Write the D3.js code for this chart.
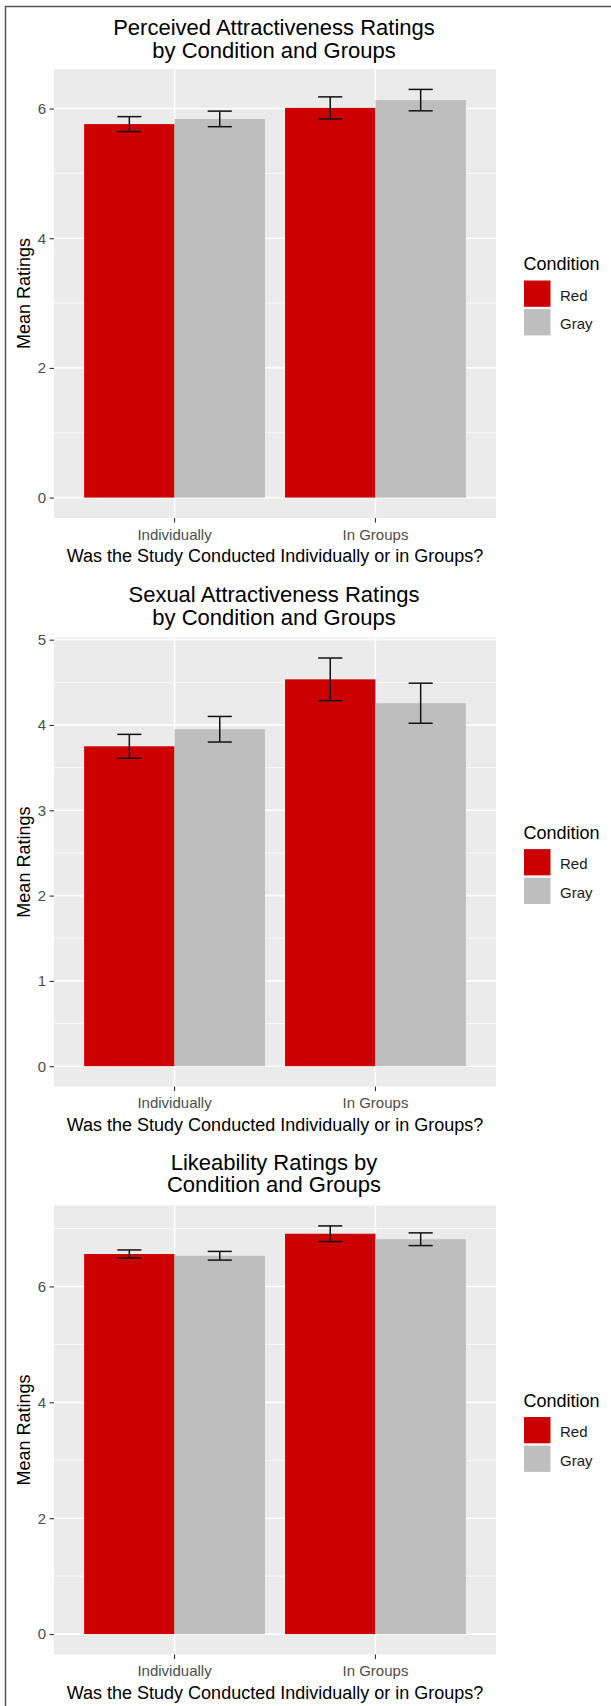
<!DOCTYPE html>
<html>
<head>
<meta charset="utf-8">
<script src="https://cdn.jsdelivr.net/npm/d3@7"></script>
<style>
  body { margin: 0; background: #fff; }
  svg { display: block; font-family: "Liberation Sans", Arial, sans-serif; }
</style>
</head>
<body>
<div class="chart"></div>
<script>
// Data
const groups = ['Individually', 'In Groups'];
const conditions = ['Red', 'Gray'];
const conditionColors = ['#CC0000', '#BEBEBE'];

const perceivedRed = [5.76, 6.01];
const perceivedGray = [5.84, 6.13];
const perceivedRedSE = [0.115, 0.17];
const perceivedGraySE = [0.12, 0.165];

const sexualRed = [3.75, 4.535];
const sexualGray = [3.95, 4.255];
const sexualRedSE = [0.14, 0.25];
const sexualGraySE = [0.15, 0.235];

const likeRed = [6.56, 6.91];
const likeGray = [6.53, 6.815];
const likeRedSE = [0.07, 0.135];
const likeGraySE = [0.075, 0.11];

const titles = [
  ['Perceived Attractiveness Ratings', 'by Condition and Groups'],
  ['Sexual Attractiveness Ratings', 'by Condition and Groups'],
  ['Likeability Ratings by', 'Condition and Groups']
];
const yTicks = [[0, 2, 4, 6], [0, 1, 2, 3, 4, 5], [0, 2, 4, 6]];
const yMinor = [[1, 3, 5], [0.5, 1.5, 2.5, 3.5, 4.5], [1, 3, 5, 7]];

const panels = [
  { means: [perceivedRed, perceivedGray], se: [perceivedRedSE, perceivedGraySE] },
  { means: [sexualRed, sexualGray], se: [sexualRedSE, sexualGraySE] },
  { means: [likeRed, likeGray], se: [likeRedSE, likeGraySE] }
];

// Layout
const W = 611, H = 1706;
const panelLeft = 54, panelRight = 496, panelH = 449;
const panelTops = [69, 637.6, 1205.5];
const titleOffsets = [[-34, -11], [-36, -12.6], [-36, -13.5]];

const svg = d3.select('.chart').append('svg').attr('width', W).attr('height', H);

// outer frame (left and top edges visible)
svg.append('path')
  .attr('d', `M5.5,${H} V6.5 H${W}`)
  .attr('fill', 'none')
  .attr('stroke', '#555')
  .attr('stroke-width', 1.5);

const x = d3.scaleBand().domain(groups).range([panelLeft, panelRight])
  .paddingInner(0.1).paddingOuter(0.15);
const xSub = d3.scaleBand().domain(conditions).range([0, x.bandwidth()]);
const color = d3.scaleOrdinal().domain(conditions).range(conditionColors);

panels.forEach((p, k) => {
  const top = panelTops[k];
  const bottom = top + panelH;
  const rows = [];
  groups.forEach((g, i) => {
    conditions.forEach((c, j) => {
      rows.push({ group: g, cond: c, mean: p.means[j][i], se: p.se[j][i] });
    });
  });
  const maxVal = d3.max(rows, (d) => d.mean + d.se);
  const y = d3.scaleLinear()
    .domain([-0.05 * maxVal, 1.05 * maxVal])
    .range([bottom, top]);

  const g = svg.append('g');

  // panel background
  g.append('rect')
    .attr('x', panelLeft).attr('y', top)
    .attr('width', panelRight - panelLeft).attr('height', panelH)
    .attr('fill', '#EBEBEB');

  // minor grid
  g.selectAll('.minor').data(yMinor[k].filter((v) => v <= y.domain()[1])).enter()
    .append('line')
    .attr('x1', panelLeft).attr('x2', panelRight)
    .attr('y1', (d) => y(d)).attr('y2', (d) => y(d))
    .attr('stroke', '#fff').attr('stroke-width', 0.8);

  // major grid
  g.selectAll('.major').data(yTicks[k]).enter()
    .append('line')
    .attr('x1', panelLeft).attr('x2', panelRight)
    .attr('y1', (d) => y(d)).attr('y2', (d) => y(d))
    .attr('stroke', '#fff').attr('stroke-width', 1.6);

  g.selectAll('.vgrid').data(groups).enter()
    .append('line')
    .attr('x1', (d) => x(d) + x.bandwidth() / 2)
    .attr('x2', (d) => x(d) + x.bandwidth() / 2)
    .attr('y1', top).attr('y2', bottom)
    .attr('stroke', '#fff').attr('stroke-width', 1.6);

  // bars
  g.selectAll('.bar').data(rows).enter()
    .append('rect')
    .attr('x', (d) => x(d.group) + xSub(d.cond))
    .attr('y', (d) => y(d.mean))
    .attr('width', xSub.bandwidth())
    .attr('height', (d) => y(0) - y(d.mean))
    .attr('fill', (d) => color(d.cond));

  // error bars
  const cap = x.step() * 0.06;
  const eb = g.selectAll('.eb').data(rows).enter().append('g')
    .attr('transform', (d) => `translate(${x(d.group) + xSub(d.cond) + xSub.bandwidth() / 2},0)`);
  eb.append('line')
    .attr('y1', (d) => y(d.mean - d.se)).attr('y2', (d) => y(d.mean + d.se))
    .attr('stroke', '#111').attr('stroke-width', 1.5);
  eb.append('line')
    .attr('x1', -cap).attr('x2', cap)
    .attr('y1', (d) => y(d.mean + d.se)).attr('y2', (d) => y(d.mean + d.se))
    .attr('stroke', '#111').attr('stroke-width', 1.5);
  eb.append('line')
    .attr('x1', -cap).attr('x2', cap)
    .attr('y1', (d) => y(d.mean - d.se)).attr('y2', (d) => y(d.mean - d.se))
    .attr('stroke', '#111').attr('stroke-width', 1.5);

  // y axis
  const yAxisG = g.append('g')
    .attr('transform', `translate(${panelLeft},0)`)
    .call(d3.axisLeft(y).tickValues(yTicks[k]).tickSize(4.5).tickPadding(3.5).tickFormat(d3.format('d')));
  yAxisG.select('.domain').remove();
  yAxisG.selectAll('.tick line').attr('stroke', '#333').attr('stroke-width', 1.1);
  yAxisG.selectAll('.tick text')
    .style('font-size', '15px').attr('fill', '#4d4d4d')
    .style('font-family', '"Liberation Sans", Arial, sans-serif');

  // x axis
  const xAxisG = g.append('g')
    .attr('transform', `translate(0,${bottom})`)
    .call(d3.axisBottom(x).tickSize(4.5).tickPadding(4));
  xAxisG.select('.domain').remove();
  xAxisG.selectAll('.tick line').attr('stroke', '#333').attr('stroke-width', 1.1);
  xAxisG.selectAll('.tick text')
    .attr('y', null).attr('dy', null)
    .attr('transform', 'translate(0,21.7)')
    .style('font-size', '15px').attr('fill', '#4d4d4d')
    .style('font-family', '"Liberation Sans", Arial, sans-serif');

  const cx = (panelLeft + panelRight) / 2;

  // titles
  titles[k].forEach((t, i) => {
    g.append('text')
      .attr('x', cx - 1).attr('y', top + titleOffsets[k][i])
      .attr('text-anchor', 'middle')
      .style('font-size', '22px').attr('fill', '#000')
      .text(t);
  });

  // axis titles
  g.append('text')
    .attr('x', cx).attr('y', bottom + 44.4)
    .attr('text-anchor', 'middle')
    .style('font-size', '18px').attr('fill', '#000')
    .text('Was the Study Conducted Individually or in Groups?');

  g.append('text')
    .attr('transform', `translate(29.5,${top + panelH / 2}) rotate(-90)`)
    .attr('text-anchor', 'middle')
    .style('font-size', '18px').attr('fill', '#000')
    .text('Mean Ratings');

  // legend
  const cy = top + panelH / 2;
  const legend = g.append('g').attr('transform', `translate(524,${cy})`);
  legend.append('text')
    .attr('x', -0.5).attr('y', -23.5)
    .style('font-size', '18px').attr('fill', '#000')
    .text('Condition');
  conditions.forEach((c, i) => {
    legend.append('rect')
      .attr('x', 0).attr('y', -13 + i * 28.6)
      .attr('width', 26.5).attr('height', 26.3)
      .attr('fill', color(c));
    legend.append('text')
      .attr('x', 36).attr('y', 7 + i * 28.6)
      .style('font-size', '15px').attr('fill', '#1a1a1a')
      .text(c);
  });
});
</script>
</body>
</html>
